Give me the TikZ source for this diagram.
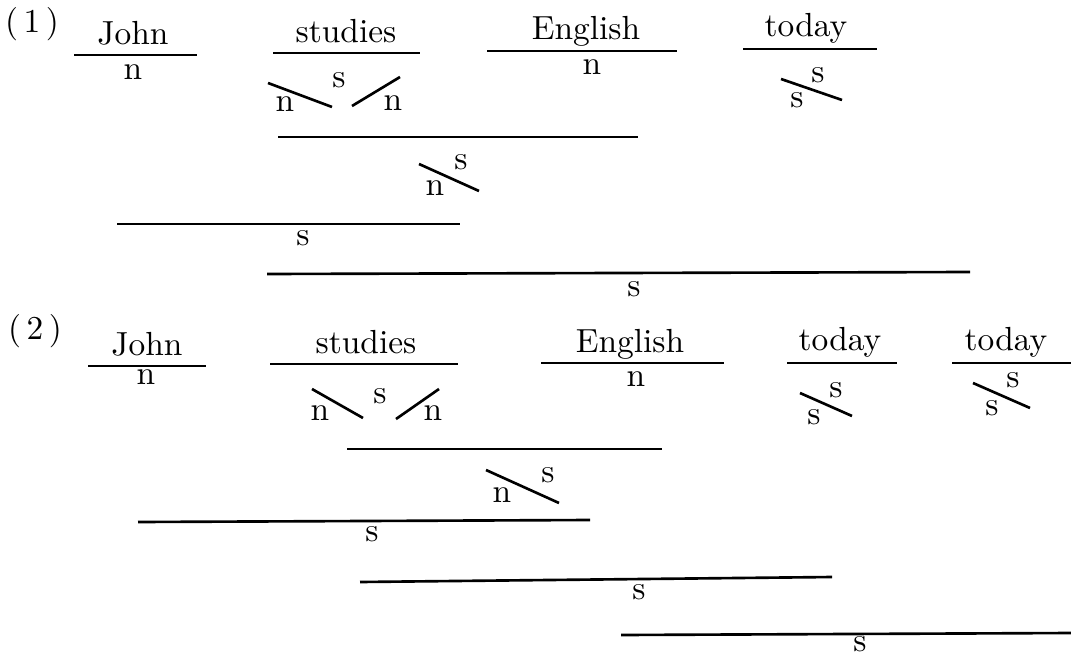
\documentclass[tikz,border=0pt]{standalone}
\usepackage{tikz}
\usetikzlibrary{positioning,calc}

\begin{document}
\begin{tikzpicture}[
    x=0.01cm, y=-0.01cm,
    font=\fontsize{9.5}{11}\selectfont,
    wordTxt/.style={anchor=base, inner sep=0pt},
    catTxt/.style={anchor=center, inner sep=0pt},
    numTxt/.style={anchor=center, inner sep=0pt},
    barLine/.style={line width=0.75pt, draw=black},
    slantLine/.style={line width=0.75pt, draw=black}
]
\useasboundingbox (0,0) rectangle (1071,655);

% (1): John studies English today
\node[numTxt] (numA) at (32,24) {(\,1\,)};

\node[wordTxt] (johnA) at (133,45) {John};
\draw[barLine] (74,55) -- (197,55);
\node[catTxt] (johnAn) at (133,72) {n};

\node[wordTxt] (studA) at (346,43) {studies};
\draw[barLine] (273,53) -- (420,53);
\node[catTxt] (studAnl) at (285,104) {n};
\node[catTxt] (studAs) at (339,80) {s};
\node[catTxt] (studAnr) at (393,103) {n};
\draw[slantLine] (268,83) -- (332,107);
\draw[slantLine] (352,106) -- (400,77);

\node[wordTxt] (engA) at (586,40) {English};
\draw[barLine] (487,51) -- (677,51);
\node[catTxt] (engAn) at (592,67) {n};

\node[wordTxt] (todayA) at (806,37) {today};
\draw[barLine] (743,49) -- (877,49);
\node[catTxt] (todayAsu) at (818,75) {s};
\node[catTxt] (todayAsl) at (797,100) {s};
\draw[slantLine] (781,79) -- (842,100);

% (1): combinations
\draw[barLine] (278,137) -- (638,137);
\node[catTxt] (vpAs) at (461,162) {s};
\node[catTxt] (vpAn) at (435,188) {n};
\draw[slantLine] (419,164) -- (479,191);

\draw[barLine] (117,224) -- (460,224);
\node[catTxt] (sentA) at (303,238) {s};

\draw[barLine] (267,274) -- (970,272);
\node[catTxt] (fullA) at (634,289) {s};

% (2): John studies English today today
\node[numTxt] (numB) at (35,331) {(\,2\,)};

\node[wordTxt] (johnB) at (147,355) {John};
\draw[barLine] (88,366) -- (206,366);
\node[catTxt] (johnBn) at (146,377) {n};

\node[wordTxt] (studB) at (366,353) {studies};
\draw[barLine] (270,364) -- (458,364);
\node[catTxt] (studBnl) at (320,413) {n};
\node[catTxt] (studBs) at (380,396) {s};
\node[catTxt] (studBnr) at (433,413) {n};
\draw[slantLine] (312,389) -- (363,418);
\draw[slantLine] (396,419) -- (439,389);

\node[wordTxt] (engB) at (630,352) {English};
\draw[barLine] (541,363) -- (724,363);
\node[catTxt] (engBn) at (636,379) {n};

\node[wordTxt] (todayB) at (840,350) {today};
\draw[barLine] (787,363) -- (897,363);
\node[catTxt] (todayBsu) at (836,390) {s};
\node[catTxt] (todayBsl) at (814,417) {s};
\draw[slantLine] (800,393) -- (852,416);

\node[wordTxt] (todayC) at (1006,350) {today};
\draw[barLine] (952,363) -- (1071,363);
\node[catTxt] (todayCsu) at (1013,380) {s};
\node[catTxt] (todayCsl) at (992,408) {s};
\draw[slantLine] (973,383) -- (1030,408);

% (2): combinations
\draw[barLine] (347,449) -- (662,449);
\node[catTxt] (vpBs) at (548,475) {s};
\node[catTxt] (vpBn) at (502,495) {n};
\draw[slantLine] (486,470) -- (559,503);

\draw[barLine] (138,522) -- (590,520);
\node[catTxt] (sentB) at (372,534) {s};

\draw[barLine] (360,582) -- (832,577);
\node[catTxt] (midB) at (639,592) {s};

\draw[barLine] (621,635) -- (1071,633);
\node[catTxt] (fullB) at (860,644) {s};

\end{tikzpicture}
\end{document}
